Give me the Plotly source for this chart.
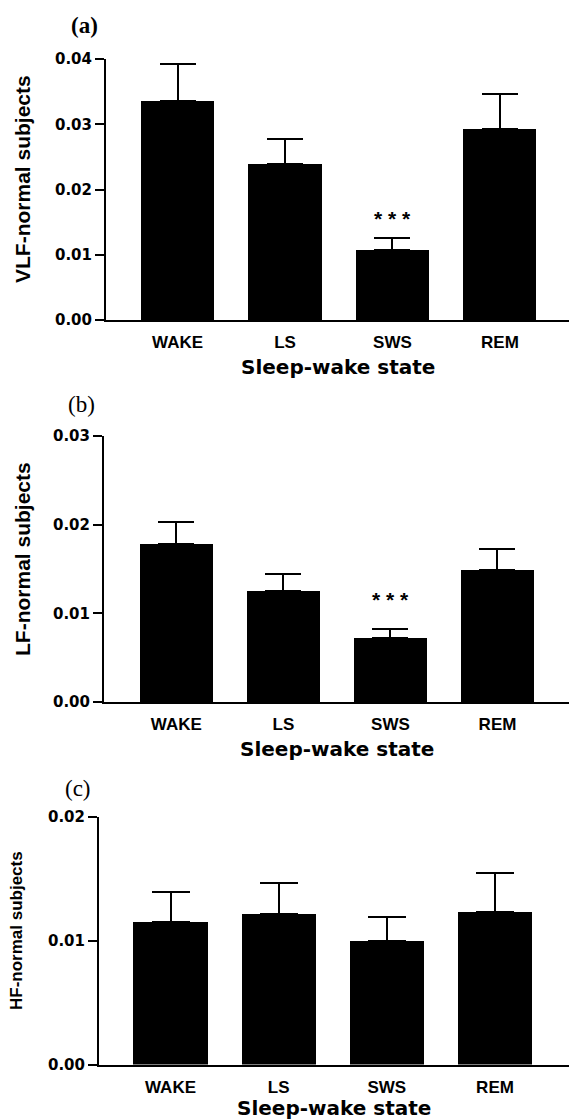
import plotly.graph_objects as go

W, H = 569, 1120

states = ["WAKE", "LS", "SWS", "REM"]

vlf_mean = [0.0336, 0.0239, 0.0108, 0.0292]
vlf_sem = [0.0056, 0.0039, 0.0017, 0.0055]

lf_mean = [0.0178, 0.0125, 0.0072, 0.0149]
lf_sem = [0.0025, 0.0019, 0.0010, 0.0024]

hf_mean = [0.0115, 0.0122, 0.0100, 0.0123]
hf_sem = [0.0024, 0.0025, 0.0019, 0.0032]

vlf_ticks = [0.0, 0.01, 0.02, 0.03, 0.04]
vlf_ticktext = ["0.00", "0.01", "0.02", "0.03", "0.04"]
lf_ticks = [0.0, 0.01, 0.02, 0.03]
lf_ticktext = ["0.00", "0.01", "0.02", "0.03"]
hf_ticks = [0.0, 0.01, 0.02]
hf_ticktext = ["0.00", "0.01", "0.02"]

panel_labels = ["(a)", "(b)", "(c)"]
y_titles = ["VLF-normal subjects", "LF-normal subjects", "HF-normal subjects"]
x_title = "Sleep-wake state"
stars = "* * *"


def px(x):
    return x / W


def py(y):
    return 1 - y / H


SANS = "Liberation Sans, Arial, sans-serif"
TICKF = "DejaVu Sans, sans-serif"
SERIF = "Liberation Serif, Times New Roman, serif"

fig = go.Figure()

panels = [
    dict(mean=vlf_mean, sem=vlf_sem, ax=106, y0=320, ytop=59, xr=[-0.666, 3.643], bw=0.68, cap=18,
         ymax=0.04, tv=vlf_ticks, tt=vlf_ticktext),
    dict(mean=lf_mean, sem=lf_sem, ax=104, y0=702, ytop=436, xr=[-0.676, 3.668], bw=0.68, cap=18,
         ymax=0.03, tv=lf_ticks, tt=lf_ticktext),
    dict(mean=hf_mean, sem=hf_sem, ax=99, y0=1064.5, ytop=817, xr=[-0.661, 3.684], bw=0.685, cap=19,
         ymax=0.02, tv=hf_ticks, tt=hf_ticktext),
]

for i, p in enumerate(panels):
    n = "" if i == 0 else str(i + 1)
    fig.add_trace(go.Bar(
        x=states, y=p["mean"], width=p["bw"],
        marker=dict(color="black", line=dict(width=0)),
        error_y=dict(type="data", array=p["sem"], arrayminus=[0] * len(p["sem"]),
                     symmetric=False, color="black", thickness=2, width=p["cap"]),
        xaxis="x" + n, yaxis="y" + n, showlegend=False,
    ))
    fig.layout["xaxis" + n] = dict(
        domain=[px(p["ax"]), 1], range=p["xr"], anchor="y" + n, automargin=False,
        showline=True, linecolor="black", linewidth=2,
        ticks="outside", ticklen=6, tickcolor="rgba(0,0,0,0)",
        tickfont=dict(family=SANS, size=17, color="black", weight="bold"),
        showgrid=False, zeroline=False, fixedrange=True,
    )
    fig.layout["yaxis" + n] = dict(
        domain=[py(p["y0"]), py(p["ytop"])], range=[0, p["ymax"]], anchor="x" + n, automargin=False,
        showline=True, linecolor="black", linewidth=2,
        ticks="outside", ticklen=9, tickwidth=2, tickcolor="black",
        tickvals=p["tv"], ticktext=p["tt"],
        tickfont=dict(family=TICKF, size=15, color="black", weight="bold"),
        showgrid=False, zeroline=False, fixedrange=True,
    )

annotations = []
for lab, (x, y), bold in zip(panel_labels, [(84, 25), (82, 404), (78, 788)], [True, False, False]):
    annotations.append(dict(text=lab, x=px(x), y=py(y), xref="paper", yref="paper",
                            showarrow=False, xanchor="center", yanchor="middle",
                            font=dict(family=SERIF, size=23, color="black",
                                      weight="bold" if bold else "normal")))
for t, (x, y), s in zip(y_titles, [(22, 179), (22, 559), (16, 931)], [21, 21, 17]):
    annotations.append(dict(text=t, x=px(x), y=py(y), xref="paper", yref="paper",
                            showarrow=False, textangle=-90, xanchor="center", yanchor="middle",
                            font=dict(family=SANS, size=s, color="black", weight="bold")))
for (x, y) in [(337.5, 367), (336.5, 749), (334, 1108)]:
    annotations.append(dict(text=x_title, x=px(x), y=py(y), xref="paper", yref="paper",
                            showarrow=False, xanchor="center", yanchor="middle",
                            font=dict(family=TICKF, size=20, color="black", weight="bold")))
annotations.append(dict(text=stars, x="SWS", y=0.0156, xref="x", yref="y", showarrow=False,
                        yanchor="middle", font=dict(family=SANS, size=21, color="black", weight="bold")))
annotations.append(dict(text=stars, x="SWS", y=0.0116, xref="x2", yref="y2", showarrow=False,
                        yanchor="middle", font=dict(family=SANS, size=21, color="black", weight="bold")))

fig.update_layout(
    template="none",
    width=W, height=H,
    margin=dict(l=0, r=0, t=0, b=0, pad=0),
    paper_bgcolor="white", plot_bgcolor="white",
    annotations=annotations,
    bargap=0,
)

fig.write_html("out.html", config={"displayModeBar": False, "staticPlot": True},
               post_script="document.body.style.margin='0';document.body.style.overflow='hidden';")
